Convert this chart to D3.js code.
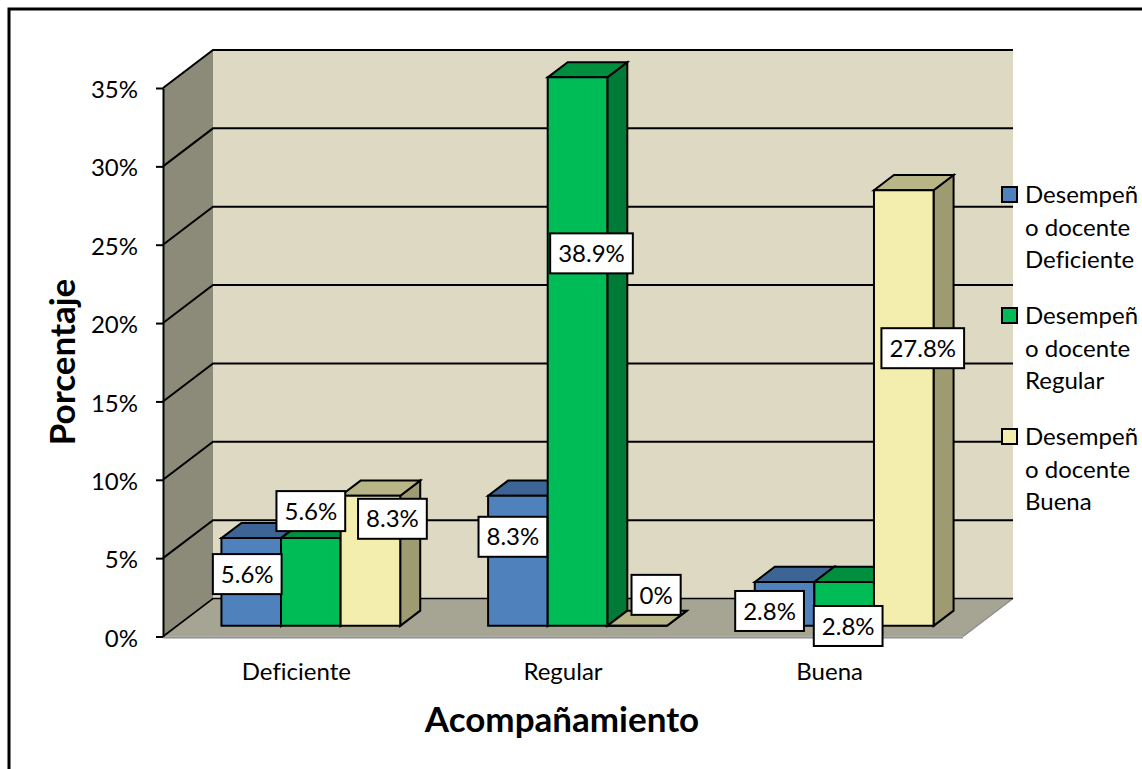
<!DOCTYPE html>
<html><head><meta charset="utf-8">
<script src="https://cdnjs.cloudflare.com/ajax/libs/d3/7.8.5/d3.min.js"></script>
<style>html,body{margin:0;padding:0;background:#fff}svg{display:block}text{font-family:Lato,sans-serif;fill:#000;font-variant-ligatures:none}</style>
</head><body><svg id="c" width="1142" height="769"></svg>
<script>
const categories = ["Deficiente","Regular","Buena"];
const seriesNames = [["Desempeñ","o docente","Deficiente"],["Desempeñ","o docente","Regular"],["Desempeñ","o docente","Buena"]];
const serieDeficiente = [5.6,8.3,2.8];
const serieRegular = [5.6,38.9,2.8];
const serieBuena = [8.3,0,27.8];
const yTicks = [0,5,10,15,20,25,30,35];
const frontColors = ["#4F81BD","#00BC57","#F3EEAE"];
const topColors = ["#3C6494","#008E3F","#B8B587"];
const sideColors = ["#3A5F8C","#007A37","#9E9B72"];
// label offsets from each bar's front-top centre [series][category]
const labelOffsets = [[[-4,36],[-5,41],[-15,29]],[[0,-27],[14,176],[4,44]],[[22,23],[19,-31],[19,158]]];

const W=1142,H=769, svg=d3.select("#c");
const series=[serieDeficiente,serieRegular,serieBuena];
const depthX=50, depthY=-38, barFrom=0.28, barDepth=0.4;
const x=d3.scaleBand().domain(categories).range([163,963]);
const y=d3.scaleLinear().domain([0,35]).range([636.5,88]).clamp(true);
const BARW=59.6, GROUP=BARW*3;
const pts=a=>a.map(p=>p.join(",")).join(" ");
const bs=2, FS="24px";

svg.append("rect").attr("x",9).attr("y",9).attr("width",1300).attr("height",1000).attr("fill","#fff").attr("stroke","#000").attr("stroke-width",3);

const x0=x.range()[0], x1=x.range()[1], y0=y(0), yT=y(35);
// walls
svg.append("polygon").attr("points",pts([[x0+depthX,yT+depthY],[x1+depthX,yT+depthY],[x1+depthX,y0+depthY],[x0+depthX,y0+depthY]])).attr("fill","#DDD9C3");
svg.append("polygon").attr("points",pts([[x0,yT],[x0+depthX,yT+depthY],[x0+depthX,y0+depthY],[x0,y0]])).attr("fill","#8C8A78");
svg.append("polygon").attr("points",pts([[x0,y0],[x0+depthX,y0+depthY],[x1+depthX,y0+depthY],[x1,y0]])).attr("fill","#A6A594");
svg.append("line").attr("x1",x0).attr("x2",x1).attr("y1",y0+1).attr("y2",y0+1).attr("stroke","#8f8f8f").attr("stroke-width",2);
svg.append("line").attr("x1",x1).attr("x2",x1+depthX).attr("y1",y0).attr("y2",y0+depthY).attr("stroke","#8f8f88").attr("stroke-width",1.5);
// gridlines
yTicks.forEach(t=>{
  svg.append("polyline").attr("points",pts([[x0,y(t)],[x0+depthX,y(t)+depthY],[x1+depthX,y(t)+depthY]]))
    .attr("fill","none").attr("stroke","#000").attr("stroke-width",t===0?1.6:2);
});
// axes
const gy=svg.append("g").attr("transform",`translate(${x0},0)`).call(d3.axisLeft(y).tickValues(yTicks).tickFormat(d=>d+"%").tickSize(7).tickSizeOuter(0).tickPadding(18));
gy.selectAll("path,line").attr("stroke","#000").attr("stroke-width",2);
gy.selectAll("text").attr("dy","0.4em").style("font-size",FS).style("font-family","Lato,sans-serif");
const gx=svg.append("g").attr("transform",`translate(0,${y0})`).call(d3.axisBottom(x).tickSize(0).tickPadding(26));
gx.select("path").remove();
gx.selectAll("text").style("font-size",FS).style("font-family","Lato,sans-serif");

// bars
categories.forEach((c,ci)=>{
  const cx=x(c)+x.bandwidth()/2+depthX*barFrom+0.5;
  series.forEach((s,si)=>{
    const l=cx-GROUP/2+si*BARW, r=l+BARW;
    const dy0=depthY*barFrom, top=y(s[ci])+dy0, base=y0+dy0, dx=depthX*barDepth, dy=depthY*barDepth;
    const g=svg.append("g").attr("stroke","#000").attr("stroke-width",bs).attr("stroke-linejoin","miter");
    g.append("polygon").attr("points",pts([[r,top],[r+dx,top+dy],[r+dx,base+dy],[r,base]])).attr("fill",sideColors[si]);
    g.append("polygon").attr("points",pts([[l,top],[l+dx,top+dy],[r+dx,top+dy],[r,top]])).attr("fill",topColors[si]);
    g.append("polygon").attr("points",pts([[l,top],[r,top],[r,base],[l,base]])).attr("fill",frontColors[si]);
  });
});
// data labels
categories.forEach((c,ci)=>{
  const cx=x(c)+x.bandwidth()/2+depthX*barFrom+0.5;
  series.forEach((s,si)=>{
    const bc=cx-GROUP/2+(si+0.5)*BARW, top=y(s[ci])+depthY*barFrom;
    const [ox,oy]=labelOffsets[si][ci];
    const g=svg.append("g").attr("transform",`translate(${bc+ox},${top+oy})`);
    const r=g.append("rect").attr("fill","#fff").attr("stroke","#000").attr("stroke-width",2);
    const t=g.append("text").attr("text-anchor","middle").attr("dy","0.36em").style("font-size",FS).text(s[ci]+"%");
    const w=t.node().getComputedTextLength()+16;
    r.attr("x",-w/2).attr("y",-20).attr("width",w).attr("height",40);
  });
});
// legend
seriesNames.forEach((lines,i)=>{
  const g=svg.append("g").attr("transform",`translate(1002,${187+i*121})`);
  g.append("rect").attr("width",15).attr("height",15).attr("fill",frontColors[i]).attr("stroke","#000").attr("stroke-width",2);
  lines.forEach((ln,j)=>g.append("text").attr("x",23).attr("y",16+j*32.7).style("font-size",FS).text(ln));
});
// titles
svg.append("text").attr("x",562).attr("y",732).attr("text-anchor","middle").style("font-size","35px").style("font-weight","700").text("Acompañamiento");
svg.append("text").attr("transform","translate(75,362) rotate(-90)").attr("text-anchor","middle").style("font-size","35px").style("font-weight","700").text("Porcentaje");
</script></body></html>
